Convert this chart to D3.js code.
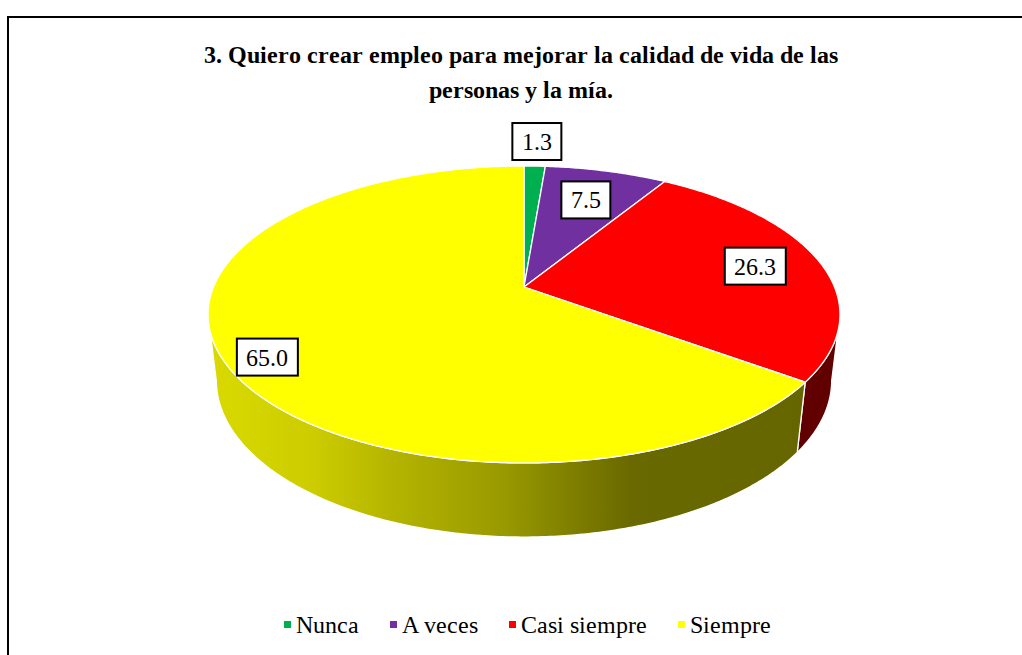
<!DOCTYPE html>
<html><head><meta charset="utf-8">
<script src="https://cdn.jsdelivr.net/npm/d3@7"></script>
<style>
body{margin:0;background:#fff}svg{display:block}
@font-face{font-family:"ChartSerif";font-weight:400;src:local("Liberation Serif"),local("LiberationSerif"),local("Times New Roman"),local("DejaVu Serif");}
@font-face{font-family:"ChartSerif";font-weight:700;src:local("Liberation Serif Bold"),local("LiberationSerif-Bold"),local("Times New Roman Bold"),local("DejaVu Serif Bold");}
</style>
</head><body>
<svg id="chart" width="1022" height="655"></svg>
<script>
const categories = ["Nunca", "A veces", "Casi siempre", "Siempre"];
const values = [1.3, 7.5, 26.3, 65.0];
const valueLabels = ["1.3", "7.5", "26.3", "65.0"];
const titleLines = ["3. Quiero crear empleo para mejorar la calidad de vida de las", "personas y la mía."];

const topColors = ["#00B050", "#7030A0", "#FF0000", "#FFFF00"];
const sideColors = ["#005828", "#381850", "#600000", "url(#sideYellow)"];
const labelRadius = [1.25, 0.72, 0.78, 0.86];
const labelDy = [0, 0, 0, 10];
const FONT = '"ChartSerif", "Liberation Serif", "Times New Roman", serif';

function draw() {
  const svg = d3.select("#chart");

  svg.append("rect").attr("x", 8).attr("y", 17).attr("width", 1200).attr("height", 1000)
    .attr("fill", "#fff").attr("stroke", "#000").attr("stroke-width", 2);

  const defs = svg.append("defs");
  const g = defs.append("linearGradient").attr("id", "sideYellow")
    .attr("gradientUnits", "userSpaceOnUse").attr("x1", 207).attr("x2", 805).attr("y1", 0).attr("y2", 0);
  [[0, "#dada00"], [0.18, "#cccc00"], [0.323, "#b2b200"], [0.49, "#9a9a00"], [0.6, "#818100"], [0.71, "#696900"], [1, "#666600"]]
    .forEach(s => g.append("stop").attr("offset", s[0]).attr("stop-color", s[1]));

  // perspective projection of a unit disk (angle clockwise from far point)
  const cx = 524, cy = 287, A = 310.5, B = 143.4, E = 66.9, k = 0.185, m = 0.026;
  function proj(a, r, h) {
    const u = r * Math.sin(a), v = r * Math.cos(a);
    const w = 1 + k * v + m * h;
    return [cx + A * u / w, cy + (-B * v + E * h) / w];
  }
  function arcPts(a0, a1, r, h) {
    const n = Math.max(2, Math.ceil(Math.abs(a1 - a0) / 0.01));
    return d3.range(n + 1).map(i => proj(a0 + (a1 - a0) * i / n, r, h));
  }
  const line = d3.line();

  const pie = d3.pie().sort(null).startAngle(0).endAngle(2 * Math.PI);
  const arcs = pie(values);

  const silR = Math.acos(-k), silL = 2 * Math.PI - Math.acos(-k);

  // sides
  const sideG = svg.append("g");
  arcs.forEach((d, i) => {
    const a0 = Math.max(d.startAngle, silR), a1 = Math.min(d.endAngle, silL);
    if (a1 <= a0) return;
    const pts = arcPts(a0, a1, 1, 0).concat(arcPts(a1, a0, 1, 1));
    sideG.append("path").attr("d", line(pts) + "Z")
      .attr("fill", sideColors[i]).attr("stroke", "#fff").attr("stroke-width", 1.3).attr("stroke-linejoin", "round");
  });

  // top faces
  const topG = svg.append("g");
  arcs.forEach((d, i) => {
    const pts = [proj(0, 0, 0)].concat(arcPts(d.startAngle, d.endAngle, 1, 0));
    topG.append("path").attr("d", line(pts) + "Z")
      .attr("fill", topColors[i]).attr("stroke", "#fff").attr("stroke-width", 1.3).attr("stroke-linejoin", "round");
  });

  const serif = sel => sel.style("font-family", FONT);

  // data labels
  const labG = svg.append("g");
  arcs.forEach((d, i) => {
    const mid = (d.startAngle + d.endAngle) / 2;
    const p = proj(mid, labelRadius[i], 0);
    const gg = labG.append("g").attr("transform", `translate(${p[0]},${p[1] + labelDy[i]})`);
    const rect = gg.append("rect");
    const t = serif(gg.append("text")).text(valueLabels[i]).attr("text-anchor", "middle")
      .attr("y", 8.5).style("font-size", "24px").attr("fill", "#000");
    const tw = t.node().getComputedTextLength();
    rect.attr("x", -tw / 2 - 9.5).attr("y", -18.5).attr("width", tw + 19).attr("height", 37)
      .attr("fill", "#fff").attr("stroke", "#000").attr("stroke-width", 2);
  });

  // title
  titleLines.forEach((s, i) => {
    serif(svg.append("text")).text(s).attr("x", 521).attr("y", 63 + i * 35).attr("text-anchor", "middle")
      .style("font-weight", "bold").style("font-size", "24px").attr("fill", "#000");
  });

  // legend
  const legG = svg.append("g");
  const items = categories.map((c, i) => {
    const gg = legG.append("g");
    gg.append("rect").attr("x", 0).attr("y", -12).attr("width", 7).attr("height", 7).attr("fill", topColors[i]);
    const t = serif(gg.append("text")).text(c).attr("x", 12).attr("y", 0)
      .style("font-size", "24px").attr("fill", "#000");
    return {gg, w: 12 + t.node().getComputedTextLength()};
  });
  const gap = 31;
  const total = d3.sum(items, d => d.w) + gap * (items.length - 1);
  let x = 527.5 - total / 2;
  items.forEach(it => { it.gg.attr("transform", `translate(${x},633)`); x += it.w + gap; });
}

const loads = [document.fonts.load('24px "ChartSerif"'), document.fonts.load('bold 24px "ChartSerif"')];
Promise.all(loads).catch(() => null).then(() => document.fonts.ready).then(draw, draw);
</script>
</body></html>
